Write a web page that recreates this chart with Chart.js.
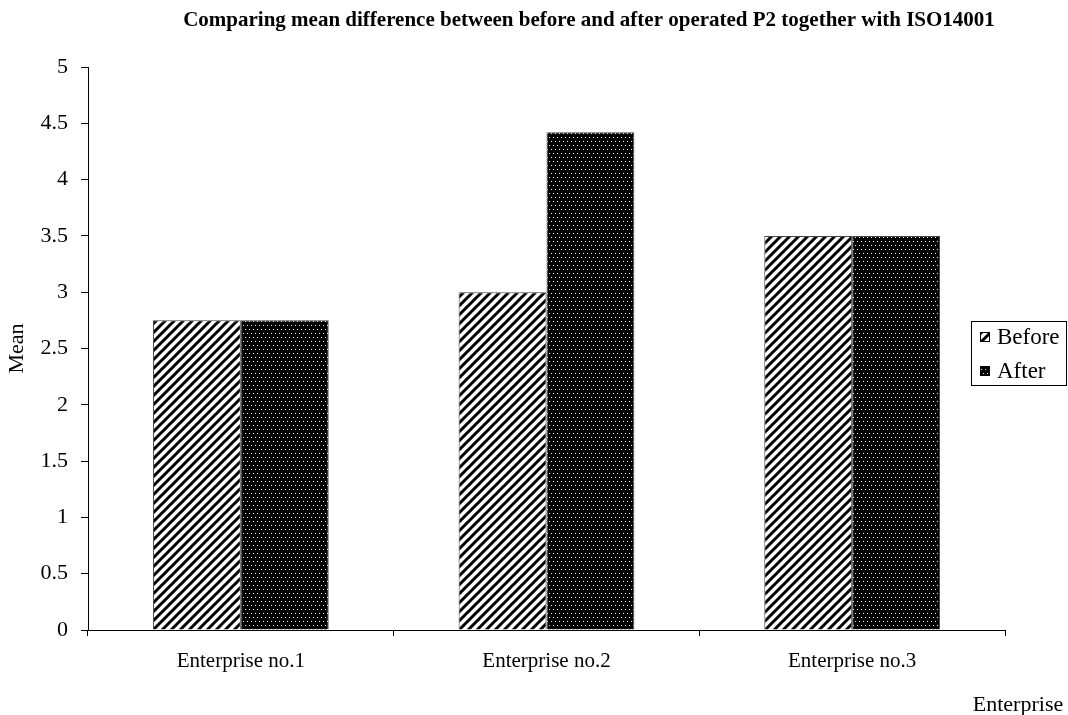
<!DOCTYPE html>
<html>
<head>
<meta charset="utf-8">
<script src="https://cdn.jsdelivr.net/npm/chart.js@4"></script>
<style>
  html, body { margin: 0; padding: 0; background: #fff; }
  #wrap { width: 1068px; height: 715px; position: relative; }
</style>
</head>
<body>
<div id="wrap"><canvas id="meanChart"></canvas></div>
<script>
// Data
const categories = ["Enterprise no.1", "Enterprise no.2", "Enterprise no.3"];
const beforeValues = [2.75, 3.0, 3.5];
const afterValues = [2.75, 4.42, 3.5];
const seriesNames = ["Before", "After"];
const chartTitle = "Comparing mean difference between before and after operated P2 together with ISO14001";
const yTitle = "Mean";
const xTitle = "Enterprise";

const serif = "'Liberation Serif', 'DejaVu Serif', serif";

// Diagonal hatch pattern (Before)
function makeHatch() {
  const c = document.createElement("canvas");
  c.width = 9; c.height = 9;
  const g = c.getContext("2d");
  g.fillStyle = "#fff";
  g.fillRect(0, 0, 9, 9);
  g.strokeStyle = "#000";
  g.lineWidth = 3;
  g.beginPath();
  g.moveTo(-9, 9); g.lineTo(9, -9);
  g.moveTo(0, 9); g.lineTo(9, 0);
  g.moveTo(0, 18); g.lineTo(18, 0);
  g.stroke();
  return g.createPattern(c, "repeat");
}

// Dotted pattern on black (After)
function makeDots() {
  const c = document.createElement("canvas");
  c.width = 8; c.height = 8;
  const g = c.getContext("2d");
  g.fillStyle = "#000";
  g.fillRect(0, 0, 8, 8);
  g.fillStyle = "#eee";
  [[1, 1], [5, 1], [3, 5], [7, 5]].forEach(p => g.fillRect(p[0], p[1], 1, 1));
  return g.createPattern(c, "repeat");
}

const hatch = makeHatch();
const dots = makeDots();

// Title, legend and x title drawn at fixed spots
const extras = {
  id: "extras",
  afterDraw(chart) {
    const ctx = chart.ctx;
    ctx.save();
    ctx.fillStyle = "#000";
    ctx.textBaseline = "middle";

    ctx.font = "bold 21px " + serif;
    ctx.textAlign = "center";
    ctx.fillText(chartTitle, 589, 21);

    ctx.font = "22px " + serif;
    ctx.fillText(xTitle, 1018, 705);

    // legend box
    ctx.textAlign = "left";
    ctx.strokeStyle = "#000";
    ctx.lineWidth = 1;
    ctx.strokeRect(971.5, 321.5, 95, 64);
    const fills = [hatch, dots];
    ctx.font = "23px " + serif;
    seriesNames.forEach((name, i) => {
      const y = 337 + i * 34;
      ctx.fillStyle = fills[i];
      ctx.fillRect(980, y - 5, 10, 10);
      ctx.strokeStyle = "#000";
      ctx.strokeRect(980.5, y - 4.5, 9, 9);
      ctx.fillStyle = "#000";
      ctx.fillText(name, 997, y + 1);
    });
    ctx.restore();
  }
};

new Chart(document.getElementById("meanChart"), {
  type: "bar",
  data: {
    labels: categories,
    datasets: [
      {
        label: seriesNames[0],
        data: beforeValues,
        backgroundColor: hatch,
        borderColor: "#444",
        borderWidth: 1,
        categoryPercentage: 0.575,
        barPercentage: 1.0,
      },
      {
        label: seriesNames[1],
        data: afterValues,
        backgroundColor: dots,
        borderColor: "#444",
        borderWidth: 1,
        categoryPercentage: 0.575,
        barPercentage: 1.0,
      },
    ],
  },
  options: {
    responsive: true,
    maintainAspectRatio: false,
    animation: false,
    layout: { padding: { left: 0, top: 67, right: 63, bottom: 0 } },
    plugins: {
      legend: { display: false },
      title: { display: false },
      tooltip: { enabled: false },
    },
    scales: {
      x: {
        afterFit(scale) { scale.height = 85; },
        border: { color: "#000", width: 1 },
        grid: { drawOnChartArea: false, offset: true, tickLength: 6, color: "#000" },
        ticks: { color: "#000", font: { family: serif, size: 21 }, padding: 13, maxRotation: 0 },
      },
      y: {
        min: 0,
        max: 5,
        afterFit(scale) { scale.width = 88; },
        border: { color: "#000", width: 1 },
        grid: { drawOnChartArea: false, tickLength: 7, color: "#000" },
        ticks: {
          stepSize: 0.5,
          color: "#000",
          font: { family: serif, size: 22 },
          padding: 13,
          callback: (value) => String(value),
        },
        title: {
          display: true,
          text: yTitle,
          color: "#000",
          font: { family: serif, size: 22 },
          padding: { top: 4, bottom: 0 },
        },
      },
    },
  },
  plugins: [extras],
});
</script>
</body>
</html>
